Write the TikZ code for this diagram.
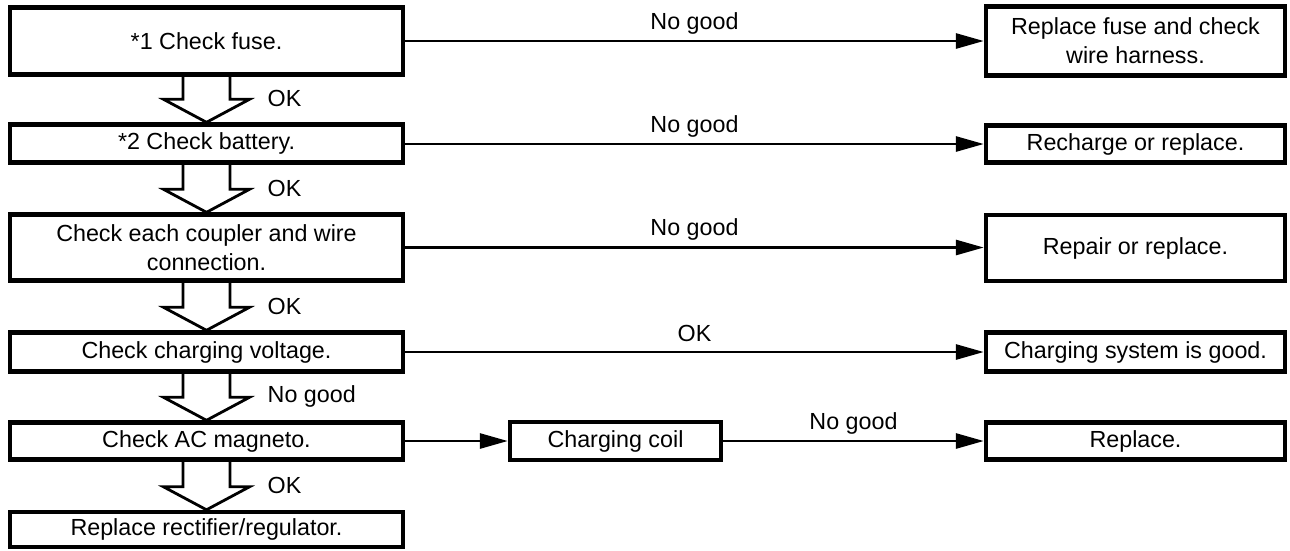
\documentclass[tikz,border=0pt]{standalone}
\usepackage{fontspec}
\setmainfont{Liberation Sans}
\usetikzlibrary{arrows.meta,calc}
\tikzset{
  box/.style={draw, line width=4.4pt, fill=white, align=center, inner sep=0pt,
    font=\fontsize{23.3}{29}\selectfont},
  lbox/.style={box, minimum width=393pt},
  rbox/.style={box, minimum width=299pt},
  flow/.style={line width=2.8pt, -{Triangle[length=28pt,width=15pt]}},
  hollow/.style={line width=2.8pt, line join=miter},
  lbl/.style={font=\fontsize{23.3}{29}\selectfont, inner sep=0pt},
}
\newcommand{\hollowarrow}[2]{%
  \draw[hollow] let \p1=(#1.south), \p2=(#2.north) in
    (\x1-23.5pt,\y1) -- (\x1-23.5pt,\y2+23pt) -- (\x1-43pt,\y2+23pt) -- (\x1,\y2)
    -- (\x1+43pt,\y2+23pt) -- (\x1+23.5pt,\y2+23pt) -- (\x1+23.5pt,\y1);}
\begin{document}
\begin{tikzpicture}[x=1pt,y=-1pt]
\useasboundingbox (0,0) rectangle (1290,550);
% left column
\node[lbox, minimum height=67pt] (b1) at (206.5,41) {*1 Check fuse.};
\node[lbox, minimum height=38pt] (b2) at (206.5,143.5) {*2 Check battery.};
\node[lbox, minimum height=66pt] (b3) at (206.5,247.5) {Check each coupler and wire\\connection.};
\node[lbox, minimum height=39pt] (b4) at (206.5,352) {Check charging voltage.};
\node[lbox, minimum height=37pt] (b5) at (206.5,441) {Check AC magneto.};
\node[lbox, minimum height=35pt] (b6) at (206.5,529.5) {Replace rectifier/regulator.};
% right column
\node[rbox, minimum height=69pt] (r1) at (1135.5,41) {Replace fuse and check\\wire harness.};
\node[rbox, minimum height=37pt] (r2) at (1135.5,144) {Recharge or replace.};
\node[rbox, minimum height=66pt] (r3) at (1135.5,248) {Repair or replace.};
\node[rbox, minimum height=39pt] (r4) at (1135.5,352) {Charging system is good.};
\node[rbox, minimum height=37pt] (r5) at (1135.5,441) {Replace.};
% middle
\node[box, minimum width=211pt, minimum height=38pt] (coil) at (615.5,441) {Charging coil};
% horizontal connectors
\draw[flow] (b1.east) -- (b1.east -| r1.west) node[lbl, pos=0.5, anchor=base, yshift=12pt] {No good};
\draw[flow] (b2.east |- r2.west) -- (r2.west) node[lbl, pos=0.5, anchor=base, yshift=12pt] {No good};
\draw[flow] (b3.east) -- (b3.east -| r3.west) node[lbl, pos=0.5, anchor=base, yshift=12pt] {No good};
\draw[flow] (b4.east) -- (r4.west) node[lbl, pos=0.5, anchor=base, yshift=11pt] {OK};
\draw[flow] (b5.east) -- (coil.west);
\draw[flow] (coil.east) -- (r5.west) node[lbl, pos=0.5, anchor=base, yshift=12pt] {No good};
% hollow down arrows
\hollowarrow{b1}{b2}
\hollowarrow{b2}{b3}
\hollowarrow{b3}{b4}
\hollowarrow{b4}{b5}
\hollowarrow{b5}{b6}
\node[lbl, anchor=west] at ([xshift=61pt,yshift=24pt]b2.north) {OK};
\node[lbl, anchor=west] at ([xshift=61pt,yshift=24pt]b3.north) {OK};
\node[lbl, anchor=west] at ([xshift=61pt,yshift=24pt]b4.north) {OK};
\node[lbl, anchor=west] at ([xshift=61pt,yshift=24pt]b5.north) {No good};
\node[lbl, anchor=west] at ([xshift=61pt,yshift=24pt]b6.north) {OK};
\end{tikzpicture}
\end{document}
